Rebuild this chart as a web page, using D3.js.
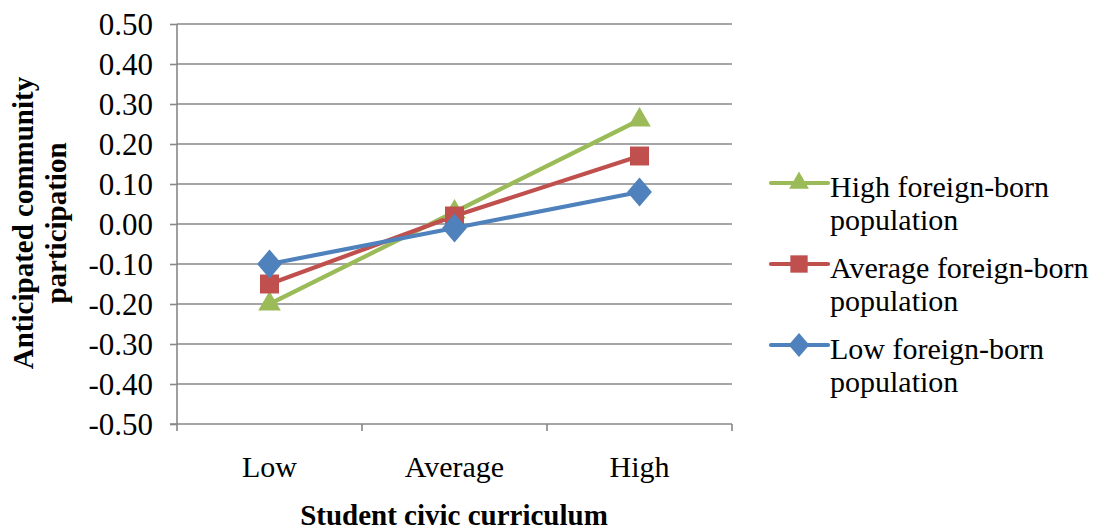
<!DOCTYPE html>
<html><head><meta charset="utf-8">
<script src="https://cdn.jsdelivr.net/npm/d3@7"></script>
<style>body{margin:0;background:#fff}svg text{font-family:"Liberation Serif","Times New Roman",serif;fill:#000}</style>
</head><body><svg id="c" width="1096" height="531"></svg>
<script>
const categories = ["Low","Average","High"];
const seriesNames = ["High foreign-born population","Average foreign-born population","Low foreign-born population"];
const legendLines = [["High foreign-born","population"],["Average foreign-born","population"],["Low foreign-born","population"]];
const highFB = [-0.20, 0.03, 0.26];
const avgFB = [-0.15, 0.02, 0.17];
const lowFB = [-0.10, -0.01, 0.08];
const yTicks = [0.5,0.4,0.3,0.2,0.1,0,-0.1,-0.2,-0.3,-0.4,-0.5];
const colors = ["#9BBB59","#C0504D","#4F81BD"];
const series = [highFB, avgFB, lowFB];

const diamond = {draw(ctx,size){const h=Math.sqrt(size/1.73);const w=h*0.86;ctx.moveTo(0,-h);ctx.lineTo(w,0);ctx.lineTo(0,h);ctx.lineTo(-w,0);ctx.closePath();}};
const symbols = [d3.symbolTriangle, d3.symbolSquare, diamond];

const svg = d3.select("#c");
const L=177, R=732, T=24, B=424;
const x = d3.scaleBand().domain(categories).range([L,R]);
const y = d3.scaleLinear().domain([-0.5,0.5]).range([B,T]);
const grid = "#878787";

// gridlines
svg.append("g").selectAll("line").data(yTicks.filter(d=>d>-0.5)).join("line")
  .attr("x1",L).attr("x2",R).attr("y1",d=>y(d)).attr("y2",d=>y(d))
  .attr("stroke",grid).attr("stroke-width",1.6);

// y axis
const ya = svg.append("g").attr("transform",`translate(${L},0)`)
  .call(d3.axisLeft(y).tickValues(yTicks).tickFormat(d3.format(".2f")).tickSize(7).tickPadding(17));
ya.select(".domain").attr("stroke",grid).attr("stroke-width",1.6).attr("d",`M0,${T}V${B+7}`);
ya.selectAll(".tick line").attr("stroke",grid).attr("stroke-width",1.6);
ya.selectAll(".tick text").attr("font-size",31).attr("font-family","Liberation Serif").attr("dy","0.34em")
  .text(d=>d3.format(".2f")(d).replace("\u2212","-"));

// x axis
const xa = svg.append("g").attr("transform",`translate(0,${B})`)
  .call(d3.axisBottom(x).tickSize(0).tickPadding(32));
xa.select(".domain").attr("stroke",grid).attr("stroke-width",1.6).attr("d",`M${L-7},0H${R}`);
xa.selectAll(".tick text").attr("font-size",30).attr("font-family","Liberation Serif").attr("dy","0.71em");
const bounds = categories.map(c=>x(c)).slice(1).concat([R]);
svg.append("g").selectAll("line").data(bounds).join("line")
  .attr("x1",d=>d).attr("x2",d=>d).attr("y1",B).attr("y2",B+7)
  .attr("stroke",grid).attr("stroke-width",1.6);

// lines & markers
const cx = (i)=>x(categories[i])+x.bandwidth()/2;
const line = d3.line().x((d,i)=>cx(i)).y(d=>y(d));
series.forEach((s,k)=>{
  svg.append("path").datum(s).attr("d",line).attr("fill","none")
    .attr("stroke",colors[k]).attr("stroke-width",4.2).attr("stroke-linejoin","round");
});
const sizes=[220,360,360];
series.forEach((s,k)=>{
  svg.append("g").selectAll("path").data(s).join("path")
    .attr("d",d3.symbol().type(symbols[k]).size(sizes[k]))
    .attr("transform",(d,i)=>`translate(${cx(i)},${y(d)})`)
    .attr("fill",colors[k]);
});

// axis titles
svg.append("text").attr("x",454).attr("y",525).attr("text-anchor","middle")
  .attr("font-size",29).attr("font-weight","bold").text("Student civic curriculum");
const yt = svg.append("text").attr("transform","translate(0,223) rotate(-90)")
  .attr("text-anchor","middle").attr("font-size",29).attr("font-weight","bold");
yt.append("tspan").attr("x",0).attr("y",33).text("Anticipated community");
yt.append("tspan").attr("x",0).attr("y",66).text("participation");

// legend
const ly = [183,264,345];
const lsizes=[170,300,250];
series.forEach((s,k)=>{
  const g = svg.append("g").attr("transform",`translate(0,${ly[k]})`);
  g.append("line").attr("x1",771).attr("x2",828).attr("y1",0).attr("y2",0)
    .attr("stroke",colors[k]).attr("stroke-width",4.2).attr("stroke-linecap","round");
  g.append("path").attr("d",d3.symbol().type(symbols[k]).size(lsizes[k])())
    .attr("transform",`translate(799,0)`).attr("fill",colors[k]);
  const t = g.append("text").attr("font-size",30).attr("font-family","Liberation Serif");
  t.append("tspan").attr("x",830).attr("y",14).text(legendLines[k][0]);
  t.append("tspan").attr("x",830).attr("y",47).text(legendLines[k][1]);
});
</script></body></html>
